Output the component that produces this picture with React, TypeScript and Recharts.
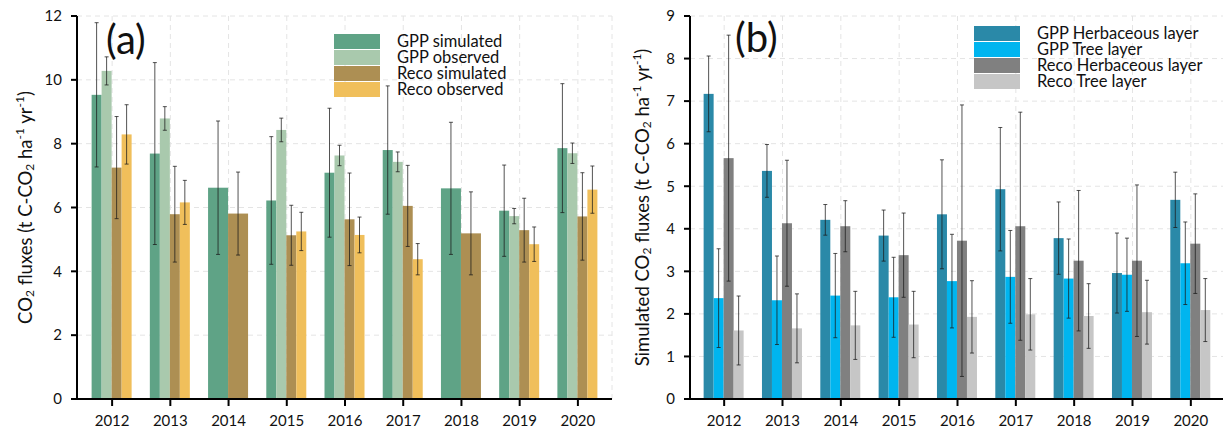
import React from "react";
import { BarChart, Bar, XAxis, YAxis, CartesianGrid } from "recharts";

const years = ["2012", "2013", "2014", "2015", "2016", "2017", "2018", "2019", "2020"];

// panel (a)
const gppSim = [9.53, 7.69, 6.62, 6.22, 7.09, 7.8, 6.6, 5.9, 7.86];
const gppSimErr = [2.26, 2.85, 2.09, 2.0, 2.02, 2.01, 2.07, 1.43, 2.02];
const gppObs = [10.28, 8.79, null, 8.43, 7.63, 7.43, null, 5.73, 7.7];
const gppObsErr = [0.44, 0.37, null, 0.37, 0.32, 0.31, null, 0.24, 0.32];
const recoSim = [7.25, 5.79, 5.81, 5.13, 5.63, 6.05, 5.19, 5.29, 5.72];
const recoSimErr = [1.6, 1.5, 1.3, 0.94, 1.45, 1.27, 1.3, 1.0, 1.37];
const recoObs = [8.29, 6.16, null, 5.25, 5.14, 4.38, null, 4.85, 6.56];
const recoObsErr = [0.93, 0.69, null, 0.6, 0.56, 0.49, null, 0.54, 0.74];

// panel (b)
const gppHerb = [7.17, 5.36, 4.21, 3.84, 4.34, 4.93, 3.78, 2.96, 4.68];
const gppHerbErr = [0.89, 0.62, 0.36, 0.6, 1.28, 1.45, 0.85, 0.94, 0.65];
const gppTree = [2.37, 2.32, 2.43, 2.39, 2.77, 2.87, 2.83, 2.92, 3.19];
const gppTreeErr = [1.16, 1.04, 0.99, 0.94, 1.1, 1.09, 0.93, 0.86, 0.97];
const recoHerb = [5.66, 4.13, 4.06, 3.38, 3.72, 4.06, 3.25, 3.25, 3.65];
const recoHerbErr = [2.89, 1.48, 0.6, 0.99, 3.19, 2.68, 1.65, 1.78, 1.17];
const recoTree = [1.61, 1.66, 1.73, 1.75, 1.93, 1.99, 1.95, 2.04, 2.09];
const recoTreeErr = [0.81, 0.81, 0.8, 0.78, 0.85, 0.84, 0.76, 0.75, 0.74];

const ticksA = [0, 2, 4, 6, 8, 10, 12];
const ticksB = [0, 1, 2, 3, 4, 5, 6, 7, 8, 9];

const FONT = "Lato, 'Open Sans', sans-serif";

const seriesA = [
  { key: "gppSim", err: "gppSimErr", partner: "gppObs", name: "GPP simulated", color: "#5fa386" },
  { key: "gppObs", err: "gppObsErr", partner: null, name: "GPP observed", color: "#a9c9ad" },
  { key: "recoSim", err: "recoSimErr", partner: "recoObs", name: "Reco simulated", color: "#ad8f53" },
  { key: "recoObs", err: "recoObsErr", partner: null, name: "Reco observed", color: "#f0bf5b" },
];
const seriesB = [
  { key: "gppHerb", err: "gppHerbErr", partner: null, name: "GPP Herbaceous layer", color: "#2a89a8" },
  { key: "gppTree", err: "gppTreeErr", partner: null, name: "GPP Tree layer", color: "#00b5ef" },
  { key: "recoHerb", err: "recoHerbErr", partner: null, name: "Reco Herbaceous layer", color: "#808080" },
  { key: "recoTree", err: "recoTreeErr", partner: null, name: "Reco Tree layer", color: "#c6c6c6" },
];

const dataA = years.map((year, i) => ({
  year,
  gppSim: gppSim[i], gppSimErr: gppSimErr[i],
  gppObs: gppObs[i], gppObsErr: gppObsErr[i],
  recoSim: recoSim[i], recoSimErr: recoSimErr[i],
  recoObs: recoObs[i], recoObsErr: recoObsErr[i],
}));

const dataB = years.map((year, i) => ({
  year,
  gppHerb: gppHerb[i], gppHerbErr: gppHerbErr[i],
  gppTree: gppTree[i], gppTreeErr: gppTreeErr[i],
  recoHerb: recoHerb[i], recoHerbErr: recoHerbErr[i],
  recoTree: recoTree[i], recoTreeErr: recoTreeErr[i],
}));

// bar + its error bar; takes the neighbour's slot when the partner value is missing
function ErrBarShape(props: any) {
  const { x, y, width, height, payload, fill, dataKey, errKey, partner } = props;
  const v = payload[dataKey];
  if (v == null || !height) return null;
  const w = partner && payload[partner] == null ? width * 2 : width;
  const base = y + height;
  const k = height / v;
  const e = payload[errKey] || 0;
  const cx = x + w / 2;
  const yHi = base - (v + e) * k;
  const yLo = base - (v - e) * k;
  return (
    <g>
      <rect x={x} y={y} width={w} height={height} fill={fill} />
      <g stroke="#1a1a1a" strokeOpacity={0.75} strokeWidth={1}>
        <line x1={cx} x2={cx} y1={yHi} y2={yLo} />
        <line x1={cx - 2} x2={cx + 2} y1={yHi} y2={yHi} />
        <line x1={cx - 2} x2={cx + 2} y1={yLo} y2={yLo} />
      </g>
    </g>
  );
}

function YTitle(props: any) {
  const { viewBox, cx, prefix } = props;
  const cy = viewBox.y + viewBox.height / 2;
  return (
    <text
      transform={`translate(${cx},${cy}) rotate(-90)`}
      textAnchor="middle"
      dominantBaseline="central"
      fontFamily={FONT}
      fontSize={18.5}
      fill="#111"
    >
      {prefix}CO<tspan dy={4} fontSize={12}>2</tspan>
      <tspan dy={-4}> fluxes (t C-CO</tspan>
      <tspan dy={4} fontSize={12}>2</tspan>
      <tspan dy={-4}> ha</tspan>
      <tspan dy={-6} fontSize={12}>-1</tspan>
      <tspan dy={6}> yr</tspan>
      <tspan dy={-6} fontSize={12}>-1</tspan>
      <tspan dy={6}>)</tspan>
    </text>
  );
}

function LegendBox({ items, left, top }: { items: typeof seriesA; left: number; top: number }) {
  return (
    <div style={{ position: "absolute", left, top, fontFamily: FONT, fontSize: 16.5, color: "#111" }}>
      {items.map((s) => (
        <div key={s.key} style={{ display: "flex", alignItems: "center", height: 16 }}>
          <div style={{ width: 46, height: 15, background: s.color }} />
          <span style={{ marginLeft: 17, lineHeight: "16px", height: 16, whiteSpace: "nowrap" }}>{s.name}</span>
        </div>
      ))}
    </div>
  );
}

function Panel(props: {
  data: any[];
  series: typeof seriesA;
  ticks: number[];
  max: number;
  yWidth: number;
  width: number;
  marginRight: number;
  padding: { left: number; right: number };
  titleX: number;
  prefix: string;
}) {
  const { data, series, ticks, max, yWidth, width, marginRight, padding, titleX, prefix } = props;
  const tickStyle = { fontFamily: FONT, fontSize: 15, fill: "#111" };
  return (
    <BarChart
      width={width}
      height={431}
      data={data}
      margin={{ top: 16, right: marginRight, bottom: 0, left: 0 }}
      barCategoryGap="14.8%"
      barGap={0}
    >
      <CartesianGrid stroke="#e4e4e4" strokeDasharray="5 4" />
      <XAxis
        dataKey="year"
        height={32}
        padding={padding}
        tick={tickStyle}
        tickSize={7}
        tickMargin={9}
        axisLine={{ stroke: "#000", strokeWidth: 2 }}
        tickLine={{ stroke: "#000", strokeWidth: 2 }}
      />
      <XAxis
        xAxisId="top"
        dataKey="year"
        orientation="top"
        height={0}
        tick={false}
        tickLine={false}
        padding={padding}
        axisLine={{ stroke: "#222", strokeWidth: 1.5 }}
      />
      <YAxis
        width={yWidth}
        domain={[0, max]}
        ticks={ticks}
        interval={0}
        tick={tickStyle}
        tickSize={6}
        tickMargin={9}
        axisLine={{ stroke: "#000", strokeWidth: 2 }}
        tickLine={{ stroke: "#000", strokeWidth: 2 }}
        label={<YTitle cx={titleX} prefix={prefix} />}
      />
      <YAxis
        yAxisId="r"
        orientation="right"
        width={0}
        domain={[0, max]}
        tick={false}
        tickLine={false}
        axisLine={{ stroke: "#333", strokeWidth: 1.3 }}
      />
      {series.map((s) => (
        <Bar
          key={s.key}
          dataKey={s.key}
          name={s.name}
          fill={s.color}
          isAnimationActive={false}
          shape={(p: any) => <ErrBarShape {...p} dataKey={s.key} errKey={s.err} partner={s.partner} />}
        />
      ))}
    </BarChart>
  );
}

export default function App() {
  return (
    <div style={{ position: "absolute", left: 0, top: 0, width: 1223, height: 431, overflow: "hidden", background: "#fff" }}>
      <div style={{ position: "absolute", left: 0, top: 0 }}>
        <Panel
          data={dataA}
          series={seriesA}
          ticks={ticksA}
          max={12}
          yWidth={77}
          width={615}
          marginRight={3}
          padding={{ left: 6, right: 5 }}
          titleX={25}
          prefix=""
        />
      </div>
      <div style={{ position: "absolute", left: 615, top: 0 }}>
        <Panel
          data={dataB}
          series={seriesB}
          ticks={ticksB}
          max={9}
          yWidth={75}
          width={615}
          marginRight={4}
          padding={{ left: 5, right: 6 }}
          titleX={27}
          prefix="Simulated "
        />
      </div>
      <div style={{ position: "absolute", left: 106, top: 18, fontFamily: FONT, fontSize: 40, lineHeight: "42px", color: "#111" }}>(a)</div>
      <div style={{ position: "absolute", left: 735, top: 16, fontFamily: FONT, fontSize: 40, lineHeight: "42px", color: "#111" }}>(b)</div>
      <LegendBox items={seriesA} left={334} top={33} />
      <LegendBox items={seriesB} left={974} top={25} />
    </div>
  );
}
